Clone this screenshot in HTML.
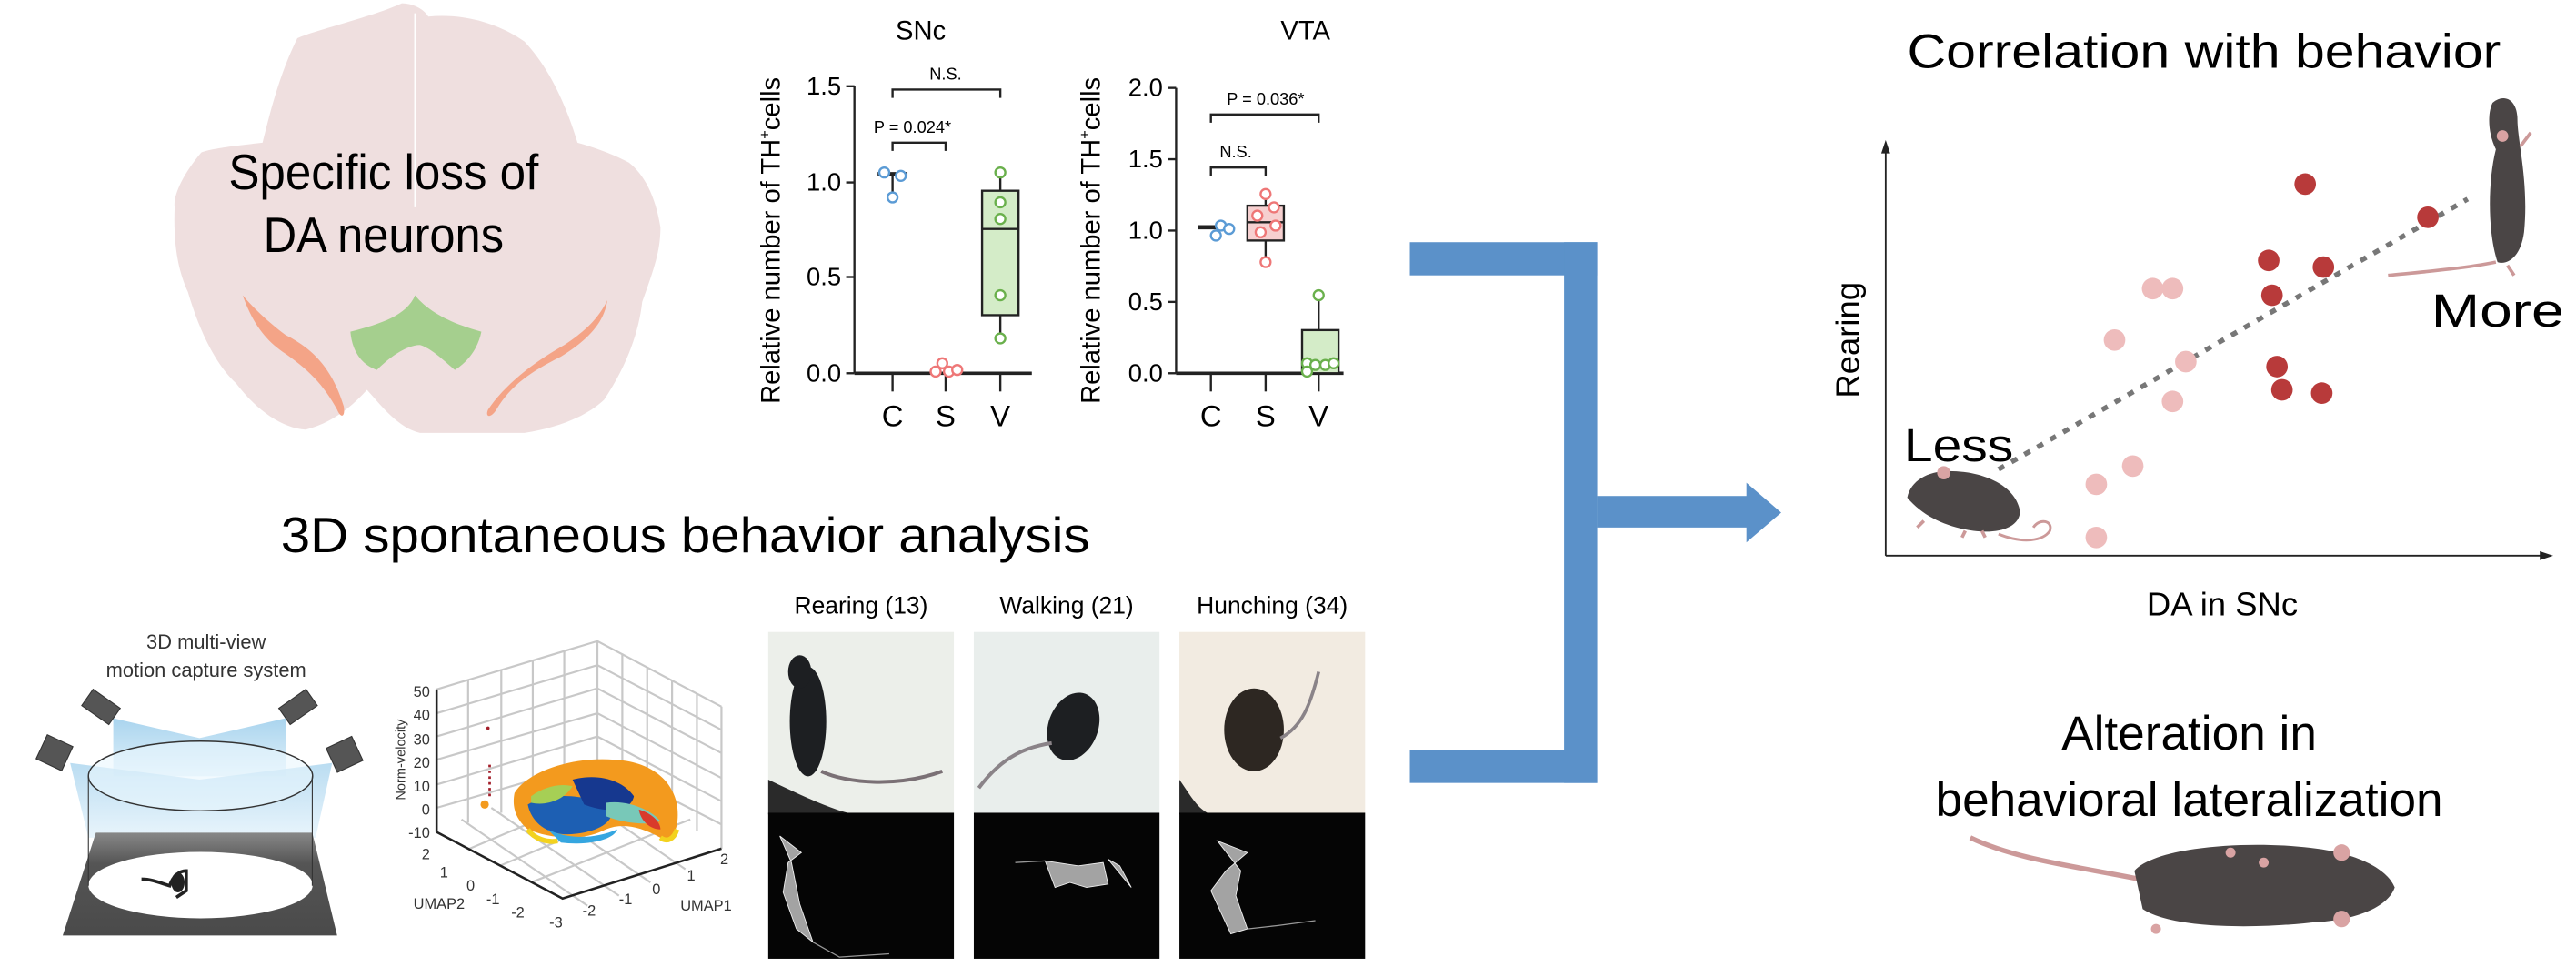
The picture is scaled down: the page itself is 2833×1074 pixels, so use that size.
<!DOCTYPE html>
<html><head><meta charset="utf-8"><style>
html,body{margin:0;padding:0;background:#fff;}
svg{display:block;}
text{font-family:"Liberation Sans",Arial,sans-serif;}
</style></head><body>
<svg width="2833" height="1074" viewBox="0 0 1553 589" xmlns="http://www.w3.org/2000/svg">
<defs>
<linearGradient id="beam" x1="0" y1="0" x2="0" y2="1"><stop offset="0" stop-color="#a9d4ee"/><stop offset="1" stop-color="#e3f2fb"/></linearGradient>
<linearGradient id="trap" x1="0" y1="0" x2="0" y2="1"><stop offset="0" stop-color="#888"/><stop offset="0.3" stop-color="#555"/><stop offset="1" stop-color="#4a4a4a"/></linearGradient>
</defs>
<rect width="1553" height="589" fill="#fff"/>

<!-- Brain -->
<path d="M242,2 C225,10 190,18 179,23 C168,45 162,70 158,86 C140,88 125,90 121,92 C110,105 104,118 105,125 C104,150 108,165 113,176 C120,200 130,220 142,231 C155,248 170,258 184,259 C200,255 212,245 221,235 C230,245 240,258 253,261 L316,261 C335,258 352,252 364,241 C378,220 385,200 387,182 C395,160 398,150 398,137 C395,118 388,105 379,98 C368,92 355,88 348,86 C340,60 330,40 316,25 C300,14 280,8 258,10 C255,5 248,2 242,2 Z" fill="#efdfdf"/>
<line x1="250" y1="8" x2="250" y2="125" stroke="#fff" stroke-width="1"/>
<path d="M250,178 C245,190 230,195 211,200 C212,212 218,220 227,223 C235,215 245,208 253,208 C260,210 268,218 274,223 C282,218 288,210 290,200 C272,195 258,188 250,178 Z" fill="#a5cf8e"/>
<path d="M146,178 C152,195 160,205 170,212 C185,222 195,232 203,247 C205,252 208,252 207,245 C200,222 188,210 172,202 C160,193 152,185 146,178 Z" fill="#f4a487"/>
<path d="M366,181 C360,193 352,200 340,208 C322,218 304,232 294,247 C292,252 296,252 299,247 C308,232 320,224 338,215 C354,205 364,195 366,181 Z" fill="#f4a487"/>
<text x="231" y="114" font-size="30" text-anchor="middle" textLength="187" lengthAdjust="spacingAndGlyphs">Specific loss of</text>
<text x="231" y="152" font-size="30" text-anchor="middle" textLength="145" lengthAdjust="spacingAndGlyphs">DA neurons</text>

<!-- SNc plot -->
<g stroke="#222" stroke-width="1.3" fill="none">
<line x1="515" y1="52" x2="515" y2="225"/>
<line x1="510" y1="52" x2="515" y2="52"/><line x1="510" y1="110" x2="515" y2="110"/><line x1="510" y1="167" x2="515" y2="167"/><line x1="510" y1="225" x2="515" y2="225"/>
<line x1="515" y1="225" x2="622" y2="225" stroke-width="2"/>
<line x1="538" y1="225" x2="538" y2="236"/><line x1="570" y1="225" x2="570" y2="236"/><line x1="603" y1="225" x2="603" y2="236"/>
<path d="M538,59 V54 H603 V59"/>
<path d="M538,91 V86 H570 V91"/>
<rect x="592" y="115" width="22" height="75" fill="#d4ecc8" stroke="#222"/>
<line x1="592" y1="138" x2="614" y2="138"/>
<line x1="603" y1="104" x2="603" y2="115"/><line x1="603" y1="190" x2="603" y2="204"/>
<line x1="529" y1="105" x2="547" y2="105" stroke-width="2.5"/><line x1="538" y1="105" x2="538" y2="118"/>
</g>
<text x="555" y="24" font-size="16" text-anchor="middle">SNc</text>
<g font-size="15" text-anchor="end"><text x="507" y="57">1.5</text><text x="507" y="115">1.0</text><text x="507" y="172">0.5</text><text x="507" y="230">0.0</text></g>
<g font-size="18" text-anchor="middle"><text x="538" y="257">C</text><text x="570" y="257">S</text><text x="603" y="257">V</text></g>
<text x="570" y="48" font-size="10" text-anchor="middle">N.S.</text>
<text x="550" y="80" font-size="10" text-anchor="middle">P = 0.024*</text>
<text transform="translate(470,145) rotate(-90)" font-size="16" text-anchor="middle">Relative number of TH<tspan font-size="9" dy="-6">+</tspan><tspan dy="6">cells</tspan></text>
<g fill="#fff" stroke="#5b9bd5" stroke-width="1.3"><circle cx="533" cy="104" r="3"/><circle cx="543" cy="106" r="3"/><circle cx="538" cy="119" r="3"/></g>
<g fill="#fff" stroke="#e77" stroke-width="1.3"><circle cx="568" cy="219" r="3"/><circle cx="564" cy="224" r="3"/><circle cx="572" cy="224" r="3"/><circle cx="577" cy="223" r="3"/></g>
<g fill="#fff" stroke="#6ab04c" stroke-width="1.3"><circle cx="603" cy="104" r="3"/><circle cx="603" cy="122" r="3"/><circle cx="603" cy="132" r="3"/><circle cx="603" cy="178" r="3"/><circle cx="603" cy="204" r="3"/></g>

<!-- VTA plot -->
<g stroke="#222" stroke-width="1.3" fill="none">
<line x1="709" y1="53" x2="709" y2="225"/>
<line x1="704" y1="53" x2="709" y2="53"/><line x1="704" y1="96" x2="709" y2="96"/><line x1="704" y1="139" x2="709" y2="139"/><line x1="704" y1="182" x2="709" y2="182"/><line x1="704" y1="225" x2="709" y2="225"/>
<line x1="709" y1="225" x2="810" y2="225" stroke-width="2"/>
<line x1="730" y1="225" x2="730" y2="236"/><line x1="763" y1="225" x2="763" y2="236"/><line x1="795" y1="225" x2="795" y2="236"/>
<path d="M730,74 V69 H795 V74"/>
<path d="M730,106 V101 H763 V106"/>
<rect x="752" y="124" width="22" height="21" fill="#f6d0d0" stroke="#222"/>
<line x1="752" y1="134" x2="774" y2="134"/>
<line x1="763" y1="117" x2="763" y2="124"/><line x1="763" y1="145" x2="763" y2="158"/>
<rect x="785" y="199" width="22" height="26" fill="#d4ecc8" stroke="#222"/>
<line x1="795" y1="178" x2="795" y2="199"/>
<line x1="722" y1="137" x2="738" y2="137" stroke-width="2.5"/>
</g>
<text x="787" y="24" font-size="16" text-anchor="middle">VTA</text>
<g font-size="15" text-anchor="end"><text x="701" y="58">2.0</text><text x="701" y="101">1.5</text><text x="701" y="144">1.0</text><text x="701" y="187">0.5</text><text x="701" y="230">0.0</text></g>
<g font-size="18" text-anchor="middle"><text x="730" y="257">C</text><text x="763" y="257">S</text><text x="795" y="257">V</text></g>
<text x="763" y="63" font-size="10" text-anchor="middle">P = 0.036*</text>
<text x="745" y="95" font-size="10" text-anchor="middle">N.S.</text>
<text transform="translate(663,145) rotate(-90)" font-size="16" text-anchor="middle">Relative number of TH<tspan font-size="9" dy="-6">+</tspan><tspan dy="6">cells</tspan></text>
<g fill="#fff" stroke="#5b9bd5" stroke-width="1.3"><circle cx="736" cy="136" r="3"/><circle cx="741" cy="138" r="3"/><circle cx="733" cy="142" r="3"/></g>
<g fill="#fff" stroke="#e77" stroke-width="1.3"><circle cx="763" cy="117" r="3"/><circle cx="768" cy="125" r="3"/><circle cx="758" cy="130" r="3"/><circle cx="769" cy="136" r="3"/><circle cx="760" cy="140" r="3"/><circle cx="763" cy="158" r="3"/></g>
<g fill="#fff" stroke="#6ab04c" stroke-width="1.3"><circle cx="795" cy="178" r="3"/><circle cx="788" cy="219" r="3"/><circle cx="793" cy="220" r="3"/><circle cx="799" cy="220" r="3"/><circle cx="804" cy="219" r="3"/><circle cx="788" cy="224" r="3"/></g>

<!-- Blue bracket arrow -->
<g fill="#5b91c9">
<rect x="850" y="146" width="113" height="20"/>
<rect x="943" y="146" width="20" height="326"/>
<rect x="850" y="452" width="113" height="20"/>
<rect x="963" y="299" width="92" height="19"/>
<polygon points="1053,291 1074,309 1053,327"/>
</g>

<!-- Correlation -->
<text x="1329" y="41" font-size="29" text-anchor="middle" textLength="358" lengthAdjust="spacingAndGlyphs">Correlation with behavior</text>
<g stroke="#222" stroke-width="1" fill="#222">
<line x1="1137" y1="335" x2="1137" y2="91"/><polygon points="1135,92 1137,86 1139,92"/>
<line x1="1137" y1="335" x2="1533" y2="335"/><polygon points="1532,333 1538,335 1532,337"/>
</g>
<line x1="1205" y1="283" x2="1488" y2="120" stroke="#777" stroke-width="3" stroke-dasharray="4,5"/>
<g fill="#eebcbc"><circle cx="1298" cy="174" r="6.5"/><circle cx="1310" cy="174" r="6.5"/><circle cx="1275" cy="205" r="6.5"/><circle cx="1318" cy="218" r="6.5"/><circle cx="1310" cy="242" r="6.5"/><circle cx="1286" cy="281" r="6.5"/><circle cx="1264" cy="292" r="6.5"/><circle cx="1264" cy="324" r="6.5"/></g>
<g fill="#b83a3a"><circle cx="1390" cy="111" r="6.5"/><circle cx="1464" cy="131" r="6.5"/><circle cx="1368" cy="157" r="6.5"/><circle cx="1401" cy="161" r="6.5"/><circle cx="1370" cy="178" r="6.5"/><circle cx="1373" cy="221" r="6.5"/><circle cx="1376" cy="235" r="6.5"/><circle cx="1400" cy="237" r="6.5"/></g>
<text transform="translate(1121,205) rotate(-90)" font-size="20" text-anchor="middle">Rearing</text>
<text x="1340" y="371" font-size="20" text-anchor="middle">DA in SNc</text>
<text x="1148" y="278" font-size="28" textLength="66" lengthAdjust="spacingAndGlyphs">Less</text>
<text x="1466" y="197" font-size="28" textLength="80" lengthAdjust="spacingAndGlyphs">More</text>
<!-- less mouse -->
<g>
<path d="M1205,322 C1220,328 1232,326 1236,320 C1238,314 1230,312 1226,318" fill="none" stroke="#c99" stroke-width="1.6"/>
<path d="M1150,300 C1152,290 1162,284 1175,284 C1195,284 1215,292 1218,308 C1218,318 1205,322 1190,320 C1175,318 1160,312 1150,300 Z" fill="#4a4545"/>
<circle cx="1172" cy="285" r="4" fill="#d9a3a3"/>
<path d="M1160,314 l-4,4 M1195,320 l2,4 M1185,320 l-2,4" stroke="#c99" stroke-width="2"/>
</g>
<!-- more mouse (standing) -->
<g>
<path d="M1505,158 C1485,162 1460,164 1440,166" fill="none" stroke="#c99" stroke-width="2"/>
<path d="M1503,62 C1510,56 1518,60 1518,72 C1518,85 1525,110 1522,140 C1520,155 1512,160 1506,158 C1500,140 1500,110 1505,90 C1500,80 1500,68 1503,62 Z" fill="#4a4545"/>
<circle cx="1509" cy="82" r="3.5" fill="#d9a3a3"/>
<path d="M1520,88 l6,-8 M1512,160 l4,6" stroke="#c99" stroke-width="2"/>
</g>
<!-- Alteration -->
<text x="1320" y="452" font-size="29" text-anchor="middle" textLength="154" lengthAdjust="spacingAndGlyphs">Alteration in</text>
<text x="1320" y="492" font-size="29" text-anchor="middle" textLength="306" lengthAdjust="spacingAndGlyphs">behavioral lateralization</text>
<g>
<path d="M1188,505 C1215,518 1250,522 1290,530" fill="none" stroke="#c99" stroke-width="3"/>
<path d="M1287,525 C1300,510 1360,506 1400,512 C1425,516 1440,525 1444,535 C1440,547 1420,555 1395,556 C1360,560 1310,560 1292,548 Z" fill="#4a4545"/>
<circle cx="1412" cy="514" r="5" fill="#d9a3a3"/><circle cx="1412" cy="554" r="5" fill="#d9a3a3"/>
<circle cx="1345" cy="514" r="3" fill="#d9a3a3"/><circle cx="1365" cy="520" r="3" fill="#d9a3a3"/><circle cx="1300" cy="560" r="3" fill="#d9a3a3"/>
</g>

<!-- 3D behavior title -->
<text x="413" y="333" font-size="30" text-anchor="middle" textLength="488" lengthAdjust="spacingAndGlyphs">3D spontaneous behavior analysis</text>

<!-- motion capture -->
<text x="124" y="391" font-size="12" text-anchor="middle" fill="#333">3D multi-view</text>
<text x="124" y="408" font-size="12" text-anchor="middle" fill="#333">motion capture system</text>
<polygon points="68,433 120,445 172,433 172,468 68,468" fill="url(#beam)"/>
<polygon points="42,460 120,470 200,460 190,505 53,505" fill="url(#beam)" opacity="0.8"/>
<polygon points="57.5,502 188,502 203,564 37.5,564" fill="url(#trap)"/>
<ellipse cx="120.6" cy="533.6" rx="67.6" ry="20" fill="#fff"/>
<ellipse cx="120.6" cy="467.8" rx="67.6" ry="21" fill="#eaf6fd" fill-opacity="0.6" stroke="#333" stroke-width="0.8"/>
<line x1="53" y1="468" x2="53" y2="534" stroke="#333" stroke-width="0.6"/>
<line x1="188" y1="468" x2="188" y2="534" stroke="#333" stroke-width="0.6"/>
<g fill="#555" stroke="#333" stroke-width="0.6">
<rect x="50" y="420" width="20" height="12" transform="rotate(35 60 427)"/>
<rect x="170" y="420" width="20" height="12" transform="rotate(-35 180 427)"/>
<rect x="24" y="446" width="17" height="16" transform="rotate(25 33 454)"/>
<rect x="199" y="447" width="17" height="16" transform="rotate(-25 207 455)"/>
</g>
<path d="M85,530 C92,530 98,533 102,534 C104,528 108,525 112,525 L112,537 L106,541" fill="none" stroke="#222" stroke-width="2"/>
<ellipse cx="107" cy="532" rx="4" ry="6" fill="#222"/>

<!-- UMAP plot -->
<g stroke="#c8c8c8" stroke-width="1.2" fill="none">
<polyline points="263,415.6 360,386.5 434.8,426"/>
<line x1="360" y1="386.5" x2="360" y2="459"/>
<line x1="434.8" y1="426" x2="434.8" y2="511.6"/>
<line x1="263" y1="430" x2="360" y2="401"/><line x1="263" y1="444" x2="360" y2="415"/><line x1="263" y1="458" x2="360" y2="430"/><line x1="263" y1="473" x2="360" y2="444"/><line x1="263" y1="487" x2="360" y2="459"/>
<line x1="360" y1="401" x2="434.8" y2="440"/><line x1="360" y1="415" x2="434.8" y2="454"/><line x1="360" y1="430" x2="434.8" y2="469"/><line x1="360" y1="444" x2="434.8" y2="483"/><line x1="360" y1="459" x2="434.8" y2="497"/>
<line x1="282" y1="410" x2="282" y2="496"/><line x1="302" y1="404" x2="302" y2="490"/><line x1="321" y1="398" x2="321" y2="484"/><line x1="340" y1="392" x2="340" y2="478"/>
<line x1="375" y1="394" x2="375" y2="469"/><line x1="390" y1="402" x2="390" y2="480"/><line x1="405" y1="410" x2="405" y2="490"/><line x1="420" y1="418" x2="420" y2="501"/>
<line x1="282" y1="512" x2="379" y2="471"/><line x1="301" y1="522" x2="398" y2="481"/><line x1="320" y1="532" x2="416" y2="494"/>
<line x1="278" y1="494" x2="354" y2="546"/><line x1="296" y1="487" x2="373" y2="540"/><line x1="316" y1="480" x2="392" y2="532"/><line x1="337" y1="472" x2="413" y2="524"/>
</g>
<g stroke="#222" stroke-width="1.4" fill="none">
<line x1="263" y1="415.6" x2="263" y2="501.6"/>
<polyline points="263,501.6 339,541.7 434.8,511.6"/>
</g>
<g font-size="9" fill="#333" text-anchor="end">
<text x="259" y="420">50</text><text x="259" y="434">40</text><text x="259" y="449">30</text><text x="259" y="463">20</text><text x="259" y="477">10</text><text x="259" y="491">0</text><text x="259" y="505">-10</text>
<text x="259" y="518">2</text><text x="270" y="529">1</text><text x="286" y="537">0</text><text x="301" y="545">-1</text><text x="316" y="553">-2</text>
</g>
<g font-size="9" fill="#333">
<text x="331" y="559">-3</text><text x="351" y="552">-2</text><text x="373" y="545">-1</text><text x="393" y="539">0</text><text x="414" y="531">1</text><text x="434" y="521">2</text>
<text x="249" y="548">UMAP2</text><text x="410" y="549">UMAP1</text>
</g>
<text transform="translate(244,458) rotate(-90)" font-size="8" fill="#333" text-anchor="middle">Norm-velocity</text>
<path d="M310,478 C318,465 345,456 370,458 C392,459 405,470 408,485 C410,500 405,508 398,505 C385,498 375,496 365,500 C350,508 330,505 318,500 C312,495 308,488 310,478 Z" fill="#f39a1e"/>
<path d="M318,485 C330,478 350,478 368,486 C372,495 360,503 340,503 C328,502 320,495 318,485 Z" fill="#1d5fb3"/>
<path d="M345,470 C360,466 375,470 382,480 C380,490 365,490 352,485 Z" fill="#16388f"/>
<path d="M365,484 C378,482 392,488 398,495 C390,498 375,496 365,492 Z" fill="#78c8b8"/>
<path d="M320,480 C328,474 338,472 345,474 C340,482 330,486 320,484 Z" fill="#a6cf55"/>
<path d="M330,500 C342,506 358,506 372,500 C370,506 355,510 338,508 Z" fill="#35a6e0"/>
<path d="M385,488 C392,490 398,495 398,500 C392,500 386,495 385,488 Z" fill="#d93a2b"/>
<path d="M318,500 C322,506 330,508 336,507" stroke="#f3d21e" stroke-width="3" fill="none"/>
<path d="M398,505 C402,508 406,506 408,500" stroke="#f3d21e" stroke-width="3" fill="none"/>
<line x1="295" y1="461" x2="295" y2="481" stroke="#a31f2a" stroke-width="1.5" stroke-dasharray="1.5,2"/>
<circle cx="292" cy="485" r="2.5" fill="#f39a1e"/>
<circle cx="294" cy="439" r="1" fill="#a31f2a"/>

<!-- photos -->
<g>
<rect x="463" y="381" width="112" height="110" fill="#ecefea"/>
<path d="M463,470 C480,478 500,488 515,491 L463,491 Z" fill="#2a2a2a"/>
<rect x="587" y="381" width="112" height="110" fill="#e9eeec"/>
<rect x="711" y="381" width="112" height="110" fill="#f2ebe1"/>
<path d="M711,470 C718,480 722,488 730,491 L711,491 Z" fill="#2a2a2a"/>
<rect x="463" y="490" width="112" height="88" fill="#050505"/>
<rect x="587" y="490" width="112" height="88" fill="#050505"/>
<rect x="711" y="490" width="112" height="88" fill="#050505"/>
</g>
<ellipse cx="487" cy="435" rx="11" ry="33" fill="#1d1f22"/>
<ellipse cx="482" cy="405" rx="7" ry="10" fill="#1d1f22"/>
<path d="M495,465 C510,472 540,475 568,465" stroke="#7a7075" stroke-width="2.2" fill="none"/>
<ellipse cx="647" cy="438" rx="15" ry="21" fill="#1d1f22" transform="rotate(20 647 438)"/>
<path d="M634,448 C620,450 605,455 590,475" stroke="#8a8388" stroke-width="2.2" fill="none"/>
<ellipse cx="756" cy="440" rx="18" ry="25" fill="#2d2722"/>
<path d="M772,445 C785,438 790,425 795,405" stroke="#8a8388" stroke-width="2" fill="none"/>
<g fill="#d8d8d8" fill-opacity="0.75" stroke="#eee" stroke-width="0.5">
<polygon points="470,504 483,514 475,520 472,538 480,560 490,568 482,545 477,520"/>
<polygon points="630,519 650,522 665,520 668,533 655,535 645,532 636,535"/>
<polygon points="668,518 675,522 682,535"/>
<polygon points="734,507 752,514 739,525 730,537 742,563 752,560 745,540 748,525"/>
</g>
<g stroke="#999" stroke-width="0.7" fill="none">
<polyline points="490,568 506,577 536,575"/>
<polyline points="612,520 630,519"/>
<polyline points="752,560 770,558 793,555"/>
</g>
<g font-size="14.5" text-anchor="middle"><text x="519" y="370">Rearing (13)</text><text x="643" y="370">Walking (21)</text><text x="767" y="370">Hunching (34)</text></g>
</svg>
</body></html>
